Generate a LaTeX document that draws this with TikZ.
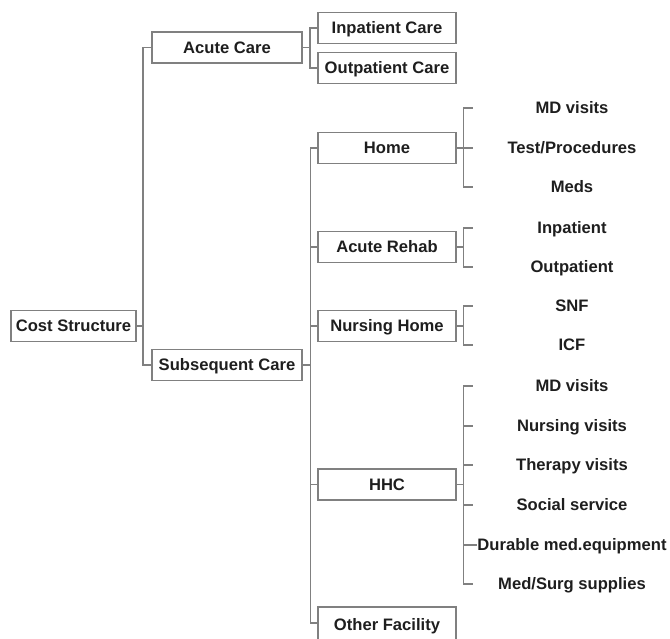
\documentclass[tikz,border=0pt]{standalone}
\usepackage{fontspec}
\setmainfont{Liberation Sans}
\definecolor{linec}{HTML}{808080}
\definecolor{textc}{HTML}{1E1E1E}
\tikzset{
  txt/.style={inner sep=0pt, text height=11.8pt, text depth=0pt, text=textc,
    font=\bfseries\fontsize{16.6}{19}\selectfont},
  box/.style={txt, draw=linec, line width=1.1pt, minimum height=31pt},
  lbl/.style={txt},
  conn/.style={draw=linec, line width=1.1pt}
}
\begin{document}
\begin{tikzpicture}[x=1pt,y=-1pt]
\useasboundingbox (0,0) rectangle (670,638);
\clip (0,0) rectangle (670,638);
% boxes
\node[box, minimum width=125pt] (cost) at (73.5,326) {Cost Structure};
\node[box, minimum width=150pt] (acute) at (227,47.5) {Acute Care};
\node[box, minimum width=150pt] (subs) at (227,365) {Subsequent Care};
\node[box, minimum width=138pt] (inp) at (387,28) {Inpatient Care};
\node[box, minimum width=138pt] (outp) at (387,68) {Outpatient Care};
\node[box, minimum width=138pt] (home) at (387,148) {Home};
\node[box, minimum width=138pt] (rehab) at (387,247) {Acute Rehab};
\node[box, minimum width=138pt] (nh) at (387,326) {Nursing Home};
\node[box, minimum width=138pt] (hhc) at (387,484.5) {HHC};
\node[box, minimum width=138pt, minimum height=36pt] (other) at (387,625) {Other Facility};
% leaf labels
\node[lbl] (md1) at (572,108) {MD visits};
\node[lbl] (test) at (572,148) {Test/Procedures};
\node[lbl] (meds) at (572,187) {Meds};
\node[lbl] (rin) at (572,228) {Inpatient};
\node[lbl] (rout) at (572,267) {Outpatient};
\node[lbl] (snf) at (572,306) {SNF};
\node[lbl] (icf) at (572,345) {ICF};
\node[lbl] (md2) at (572,386) {MD visits};
\node[lbl] (nv) at (572,426) {Nursing visits};
\node[lbl] (tv) at (572,465) {Therapy visits};
\node[lbl] (ss) at (572,505) {Social service};
\node[lbl] (dme) at (572,545) {Durable med.equipment};
\node[lbl] (msup) at (572,584) {Med/Surg supplies};
% helper coordinates
\coordinate (t1) at (143,326);
\coordinate (t2) at (310,47.5);
\coordinate (t3) at (310.5,365);
\coordinate (B) at (463.5,0);
\coordinate (R) at (472.5,0);
\coordinate (oj) at (318,623);
% level 1
\draw[conn] (cost.east) -- (t1);
\draw[conn] (acute.west) -| (t1) |- (subs.west);
% acute care
\draw[conn] (acute.east) -- (t2);
\draw[conn] (inp.west) -| (t2) |- (outp.west);
% subsequent care
\draw[conn] (subs.east) -- (t3);
\draw[conn] (home.west) -| (t3) |- (oj);
\draw[conn] (rehab.west) -- (rehab.west -| t3);
\draw[conn] (nh.west) -- (nh.west -| t3);
\draw[conn] (hhc.west) -- (hhc.west -| t3);
% home bracket
\draw[conn] (md1 -| R) -| (B |- meds) -- (meds -| R);
\draw[conn] (home.east) -- (test -| R);
% acute rehab bracket
\draw[conn] (rin -| R) -| (B |- rout) -- (rout -| R);
\draw[conn] (rehab.east) -- (rehab -| B);
% nursing home bracket
\draw[conn] (snf -| R) -| (B |- icf) -- (icf -| R);
\draw[conn] (nh.east) -- (nh -| B);
% HHC bracket
\draw[conn] (md2 -| R) -| (B |- msup) -- (msup -| R);
\draw[conn] (hhc.east) -- (hhc -| B);
\foreach \n in {nv,tv,ss} \draw[conn] (\n -| B) -- (\n -| R);
\draw[conn] (dme -| B) -- (dme.west);
\end{tikzpicture}
\end{document}
